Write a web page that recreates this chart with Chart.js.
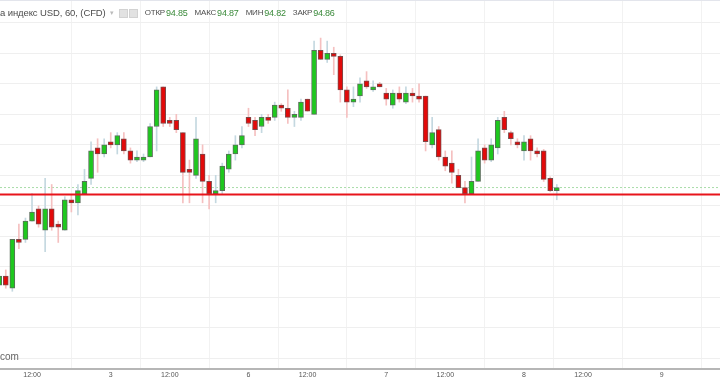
<!DOCTYPE html>
<html>
<head>
<meta charset="utf-8">
<script src="https://cdn.jsdelivr.net/npm/chart.js@4"></script>
<style>
  body { margin: 0; background: #fff; }
  #wrap { position: relative; width: 720px; height: 380px; overflow: hidden; font-family: Arial, "Liberation Sans", sans-serif; }
  #wrap canvas { position: absolute; left: 0; top: 0; }
  #hdr { position: absolute; left: 0; top: 7px; display: flex; align-items: center; font-size: 9.5px; line-height: 12px; color: #4d4d4d; white-space: nowrap; }
  #hdr .k { font-size: 8px; letter-spacing: -0.2px; }
  #hdr .v { color: #3a8a3a; font-size: 9px; letter-spacing: -0.2px; margin-left: 1px; margin-right: 7px; }
  .ic { display: inline-block; width: 7px; height: 7px; background: #e2e2e2; border: 1px solid #d2d2d2; margin-right: 1px; }
  #topline { position: absolute; left: 0; top: 0; width: 720px; height: 1px; background: #e3e5ec; }
  #wm { position: absolute; left: 0; top: 351px; font-size: 10px; color: #666; }
</style>
</head>
<body>
<div id="wrap">
  <canvas id="grafico" width="720" height="380"></canvas>
  <div id="topline"></div>
  <div id="hdr">
    <span style="letter-spacing:-0.1px">а индекс USD, 60, (CFD)</span>
    <span style="color:#bbb;font-size:7px;margin:0 5px 0 4px">▾</span>
    <span class="ic"></span><span class="ic" style="margin-right:7px"></span>
    <span class="k">ОТКР</span><span class="v">94.85</span>
    <span class="k">МАКС</span><span class="v">94.87</span>
    <span class="k">МИН</span><span class="v">94.82</span>
    <span class="k">ЗАКР</span><span class="v">94.86</span>
  </div>
  <span id="wm">com</span>
</div>
<script>
// hourly candles, index = position on the x axis
const abre = [94.54,94.57,94.53,94.69,94.69,94.75,94.79,94.72,94.79,94.74,
  94.72,94.82,94.81,94.84,94.89,94.99,94.97,95.01,95.00,95.02,
  94.98,94.95,94.95,94.96,95.06,95.19,95.08,95.08,95.04,94.92,
  94.90,94.97,94.88,94.84,94.85,94.92,94.97,95.00,95.09,95.08,
  95.06,95.09,95.09,95.13,95.12,95.09,95.09,95.15,95.10,95.31,
  95.28,95.30,95.29,95.18,95.14,95.16,95.21,95.18,95.20,95.17,
  95.13,95.17,95.14,95.17,95.16,95.16,95.00,95.05,94.96,94.94,
  94.90,94.86,94.84,94.88,94.99,94.95,94.99,95.09,95.04,95.01,
  94.98,95.02,94.98,94.98,94.89,94.85]
const maxima = [94.58,94.59,94.69,94.74,94.76,94.84,94.80,94.89,94.87,94.75,
  94.83,94.835,94.87,94.92,95.01,95.02,95.02,95.04,95.04,95.04,
  94.99,94.98,94.97,95.07,95.19,95.19,95.09,95.10,95.04,94.95,
  95.09,95.00,94.90,94.90,94.94,94.98,95.03,95.06,95.12,95.09,
  95.10,95.10,95.14,95.135,95.18,95.11,95.15,95.15,95.34,95.35,
  95.34,95.32,95.295,95.19,95.19,95.22,95.24,95.21,95.205,95.185,
  95.18,95.19,95.19,95.185,95.20,95.16,95.09,95.06,94.98,94.98,
  94.92,94.88,94.96,95.02,95.00,95.02,95.09,95.11,95.045,95.02,
  95.03,95.03,94.99,94.985,94.895,94.87]
const minimas = [94.53,94.53,94.52,94.66,94.68,94.75,94.73,94.65,94.72,94.68,
  94.72,94.78,94.77,94.84,94.87,94.91,94.96,94.99,94.97,94.97,
  94.94,94.945,94.945,94.96,94.98,95.06,95.06,95.04,94.81,94.81,
  94.89,94.81,94.79,94.81,94.84,94.91,94.95,94.99,95.06,95.03,
  95.04,95.07,95.08,95.11,95.07,95.06,95.08,95.11,95.10,95.28,
  95.27,95.23,95.14,95.09,95.125,95.14,95.185,95.175,95.19,95.13,
  95.12,95.14,95.135,95.14,95.14,94.98,94.99,94.95,94.915,94.874,
  94.86,94.81,94.84,94.88,94.94,94.945,94.97,95.04,95.00,94.99,
  94.95,94.95,94.96,94.88,94.846,94.82]
const fecha = [94.57,94.54,94.69,94.68,94.75,94.78,94.74,94.79,94.73,94.73,
  94.82,94.81,94.85,94.88,94.98,94.97,95.00,95.00,95.03,94.98,
  94.95,94.96,94.96,95.06,95.18,95.07,95.07,95.05,94.91,94.91,
  95.02,94.88,94.84,94.85,94.93,94.97,95.00,95.03,95.07,95.05,
  95.09,95.08,95.13,95.12,95.09,95.10,95.14,95.11,95.31,95.28,
  95.30,95.29,95.18,95.14,95.15,95.20,95.19,95.19,95.19,95.15,
  95.17,95.15,95.17,95.16,95.15,95.01,95.04,94.96,94.93,94.91,
  94.86,94.84,94.88,94.98,94.95,95.00,95.08,95.05,95.02,95.00,
  95.01,94.98,94.97,94.887,94.85,94.86]

const posTicks = [5, 17, 26, 38, 47, 59, 68, 80, 89, 101]
const labelsX = ['12:00', '3', '12:00', '6', '12:00', '7', '12:00', '8', '12:00', '9']
const gradePrecos = [94.3, 94.4, 94.5, 94.6, 94.7, 94.8, 94.9, 95.0, 95.1, 95.2, 95.3, 95.4]
const linhaVermelha = 94.837
const ultimoPreco = 94.86

const xMin = 0.12, xMax = 109.88
const subiu = abre.map((o, i) => fecha[i] >= o)

const pavios = abre.map((o, i) => ({ x: i, y: [minimas[i], maxima[i]] }))
const corpos = abre.map((o, i) => ({ x: i, y: [o, fecha[i]] }))

new Chart(document.getElementById('grafico'), {
  type: 'bar',
  data: {
    datasets: [
      {
        type: 'line',
        data: [{ x: xMin, y: linhaVermelha }, { x: xMax, y: linhaVermelha }],
        borderColor: '#e8141b',
        borderWidth: 2,
        pointRadius: 0,
        order: 0
      },
      {
        type: 'line',
        data: [{ x: xMin, y: ultimoPreco }, { x: xMax, y: ultimoPreco }],
        borderColor: '#a8dca8',
        borderWidth: 1,
        borderDash: [2, 2],
        pointRadius: 0,
        order: 3
      },
      {
        data: pavios,
        backgroundColor: subiu.map(s => s ? '#c4d8e0' : '#f5c0c0'),
        barThickness: 1,
        grouped: false,
        order: 2
      },
      {
        data: corpos,
        backgroundColor: subiu.map(s => s ? '#1ec81e' : '#e20a0a'),
        borderColor: subiu.map(s => s ? '#5b6e5b' : '#7a4a4a'),
        borderWidth: 1,
        borderSkipped: false,
        barThickness: 5,
        grouped: false,
        order: 1
      }
    ]
  },
  options: {
    responsive: false,
    animation: false,
    layout: { padding: 0 },
    plugins: { legend: { display: false }, tooltip: { enabled: false } },
    scales: {
      x: {
        type: 'linear',
        min: xMin,
        max: xMax,
        offset: false,
        afterBuildTicks: axis => { axis.ticks = posTicks.map(v => ({ value: v })) },
        afterFit: axis => { axis.height = 11 },
        ticks: {
          autoSkip: false,
          maxRotation: 0,
          padding: 2,
          color: '#555',
          font: { size: 7, family: 'Arial' },
          callback: v => labelsX[posTicks.indexOf(v)]
        },
        grid: { color: '#f2f2f2', drawTicks: false },
        border: { color: '#b6b6b6', width: 2 }
      },
      y: {
        min: 94.2652,
        max: 95.4748,
        afterBuildTicks: axis => { axis.ticks = gradePrecos.map(v => ({ value: v })) },
        afterFit: axis => { axis.width = 0 },
        ticks: { display: false },
        grid: { color: '#efefef', drawTicks: false },
        border: { display: false }
      }
    }
  }
})
</script>
</body>
</html>
